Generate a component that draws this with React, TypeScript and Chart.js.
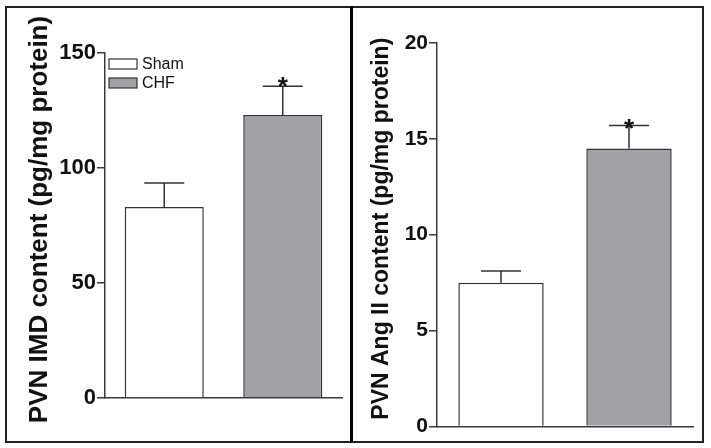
import React, { useEffect, useRef } from "react";
import { Chart, registerables } from "chart.js";

Chart.register(...registerables);

const categories = ["Sham", "CHF"];
const imdMeans = [83, 123];
const imdErrors = [10.5, 12.5];
const angMeans = [7.5, 14.5];
const angErrors = [0.6, 1.2];
const significant = [false, true];
const imdTitle = "PVN IMD content (pg/mg protein)";
const angTitle = "PVN Ang II content (pg/mg protein)";

const FONT = "Arial, 'Liberation Sans', Helvetica, sans-serif";
const AXIS = "#3a3a3a";
const BAR_BORDER = "#333333";
const FILLS = ["#ffffff", "#a2a1a6"];

type PanelCfg = {
  means: number[];
  errors: number[];
  max: number;
  step: number;
  title: string;
  titleSize: number;
  tickSize: number;
  titleX: number;
  titleShift: number;
  yWidth: number;
  starOffset: number;
  padding: { top: number; right: number; bottom: number; left: number };
  legend: boolean;
  width: number;
  height: number;
};

function makePlugin(cfg: PanelCfg) {
  return {
    id: "extras",
    afterDatasetsDraw(chart: any) {
      const ctx = chart.ctx;
      const y = chart.scales.y;
      const meta = chart.getDatasetMeta(0);
      ctx.save();
      // error bars
      meta.data.forEach((bar: any, i: number) => {
        const x = bar.x;
        const top = y.getPixelForValue(cfg.means[i]);
        const et = y.getPixelForValue(cfg.means[i] + cfg.errors[i]);
        ctx.strokeStyle = BAR_BORDER;
        ctx.lineWidth = 1.5;
        ctx.beginPath();
        ctx.moveTo(x, top);
        ctx.lineTo(x, et);
        ctx.moveTo(x - 20, et);
        ctx.lineTo(x + 20, et);
        ctx.stroke();
        if (significant[i]) {
          ctx.fillStyle = "#111";
          ctx.font = `bold 26px ${FONT}`;
          ctx.textAlign = "center";
          ctx.textBaseline = "alphabetic";
          ctx.fillText("*", x, et + cfg.starOffset);
        }
      });
      // title
      const ca = chart.chartArea;
      ctx.fillStyle = "#111";
      ctx.font = `bold ${cfg.titleSize}px ${FONT}`;
      ctx.textAlign = "center";
      ctx.textBaseline = "middle";
      ctx.translate(cfg.titleX, (ca.top + ca.bottom) / 2 + cfg.titleShift);
      ctx.rotate(-Math.PI / 2);
      ctx.fillText(cfg.title, 0, 0);
      ctx.restore();
      if (cfg.legend) {
        ctx.save();
        const lx = ca.left + 4;
        const rows = [ca.top + 6, ca.top + 25];
        categories.forEach((c, i) => {
          ctx.fillStyle = FILLS[i];
          ctx.fillRect(lx, rows[i], 28, 10);
          ctx.strokeStyle = BAR_BORDER;
          ctx.lineWidth = 1.2;
          ctx.strokeRect(lx, rows[i], 28, 10);
          ctx.fillStyle = "#111";
          ctx.font = `16px ${FONT}`;
          ctx.textAlign = "left";
          ctx.textBaseline = "middle";
          ctx.fillText(c, lx + 33, rows[i] + 5.5);
        });
        ctx.restore();
      }
    },
  };
}

function Panel({ cfg }: { cfg: PanelCfg }) {
  const ref = useRef<HTMLCanvasElement>(null);
  useEffect(() => {
    if (!ref.current) return;
    const chart = new Chart(ref.current, {
      type: "bar",
      data: {
        labels: categories,
        datasets: [
          {
            data: cfg.means,
            backgroundColor: FILLS,
            borderColor: BAR_BORDER,
            borderWidth: 1.5,
            barPercentage: 0.667,
            categoryPercentage: 1,
          },
        ],
      },
      options: {
        animation: false,
        responsive: false,
        layout: { padding: cfg.padding },
        plugins: { legend: { display: false }, tooltip: { enabled: false } },
        scales: {
          x: {
            grid: { display: false },
            ticks: { display: false },
            border: { display: true, color: AXIS, width: 1.5 },
            afterFit: (s: any) => {
              s.height = 0;
            },
          },
          y: {
            min: 0,
            max: cfg.max,
            ticks: {
              stepSize: cfg.step,
              color: "#111",
              padding: 1,
              font: { family: FONT, size: cfg.tickSize, weight: "bold" },
            },
            grid: {
              display: true,
              drawOnChartArea: false,
              drawTicks: true,
              tickLength: 8,
              color: AXIS,
              lineWidth: 1.5,
            },
            border: { display: true, color: AXIS, width: 1.5 },
            afterFit: (s: any) => {
              s.width = cfg.yWidth;
            },
          },
        },
      },
      plugins: [makePlugin(cfg)],
    } as any);
    return () => chart.destroy();
  }, []);
  return <canvas ref={ref} width={cfg.width} height={cfg.height} style={{ display: "block" }} />;
}

const leftCfg: PanelCfg = {
  means: imdMeans,
  errors: imdErrors,
  max: 150,
  step: 50,
  title: imdTitle,
  titleSize: 26,
  tickSize: 22,
  titleX: 32,
  titleShift: -6,
  yWidth: 97,
  starOffset: 9,
  padding: { top: 45, right: 8, bottom: 42, left: 0 },
  legend: true,
  width: 342,
  height: 432,
};

const rightCfg: PanelCfg = {
  means: angMeans,
  errors: angErrors,
  max: 20,
  step: 5,
  title: angTitle,
  titleSize: 23,
  tickSize: 21,
  titleX: 29,
  titleShift: -6,
  yWidth: 84,
  starOffset: 12,
  padding: { top: 35, right: 8, bottom: 12, left: 0 },
  legend: false,
  width: 348,
  height: 432,
};

export default function App() {
  return (
    <div style={{ position: "absolute", left: 0, top: 0, width: 711, height: 448, background: "#fff" }}>
      <div style={{ position: "absolute", left: 8, top: 8 }}>
        <Panel cfg={leftCfg} />
      </div>
      <div style={{ position: "absolute", left: 353, top: 8 }}>
        <Panel cfg={rightCfg} />
      </div>
      <div
        style={{
          position: "absolute",
          left: 5,
          top: 6,
          width: 699,
          height: 437,
          border: "2px solid #222",
          boxSizing: "border-box",
          pointerEvents: "none",
        }}
      />
      <div style={{ position: "absolute", left: 350, top: 6, width: 3, height: 437, background: "#000", pointerEvents: "none" }} />
    </div>
  );
}
